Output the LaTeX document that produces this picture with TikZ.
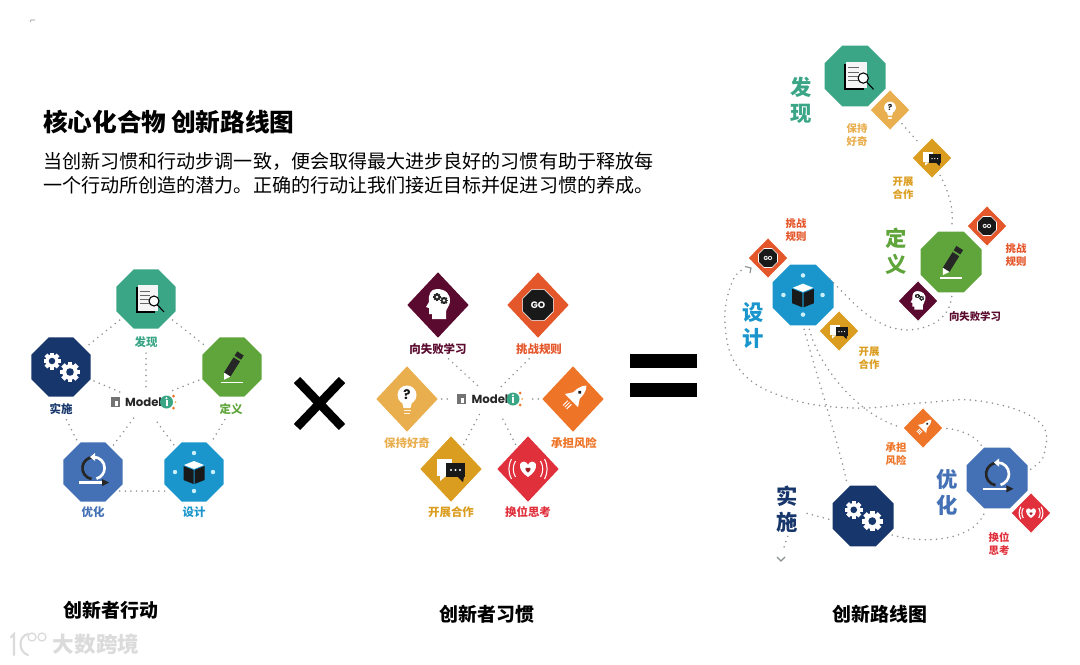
\documentclass[tikz,border=0pt]{standalone}
\usepackage{fontspec}
\setmainfont{Noto Sans CJK SC}
\newfontfamily\logofont{Poppins}
\usetikzlibrary{shapes.geometric}

\definecolor{faxian}{HTML}{3BA686}
\definecolor{dingyi}{HTML}{5FA53B}
\definecolor{sheji}{HTML}{1A96CC}
\definecolor{youhua}{HTML}{4470B5}
\definecolor{shishi}{HTML}{17366B}
\definecolor{shibai}{HTML}{5A0A2E}
\definecolor{guize}{HTML}{E4572B}
\definecolor{fengxian}{HTML}{EE7427}
\definecolor{haoqi}{HTML}{E9AE4E}
\definecolor{hezuo}{HTML}{DB9D20}
\definecolor{sikao}{HTML}{E0303C}
\definecolor{dotgray}{HTML}{8A918E}

\newcommand{\geartool}[5]{%
    \foreach \a in {0,45,...,315}
        \fill[#4,rotate around={\a:(#1,#2)}] (#1-#3*0.24,#2-#3) rectangle (#1+#3*0.24,#2);
    \fill[#4] (#1,#2) circle[radius=#3*0.78];
    \fill[#5] (#1,#2) circle[radius=#3*0.38];
}

\tikzset{
    octnode/.style={regular polygon,regular polygon sides=8,
        minimum size=48pt,inner sep=0pt,outer sep=0pt,fill=#1},
    bigoct/.style={octnode=#1,minimum size=49.5pt},
    dianode/.style={diamond,minimum width=46pt,minimum height=49pt,inner sep=0pt,outer sep=0pt,fill=#1},
    smalldia/.style={diamond,minimum width=30pt,minimum height=30.5pt,inner sep=0pt,outer sep=0pt,fill=#1,
        draw=white,line width=.6pt},
    tag/.style={font=\fontsize{8.6}{10.5}\selectfont\bfseries,text=#1,inner sep=1pt,align=center},
    smalltag/.style={font=\fontsize{7.8}{9.8}\selectfont\bfseries,text=#1,inner sep=1pt,align=center},
    bigtag/.style={font=\fontsize{16}{19.5}\selectfont\bfseries,text=#1,inner sep=0pt,align=center},
    caption/.style={font=\fontsize{14.2}{17}\selectfont\bfseries,inner sep=0pt},
    modeltext/.style={font=\logofont\fontsize{8.8}{11}\selectfont\bfseries,text=black!85,inner sep=0pt,
        minimum width=50pt,minimum height=12pt},
    dotline/.style={dotgray,line width=1.3pt,line cap=round,dash pattern=on 0pt off 4.2pt,
        shorten >=3pt,shorten <=3pt},
    docpic/.pic={
        \fill[black] (-10.5,-12) rectangle (9,14);
        \fill[white!96!black] (-8.5,-14) rectangle (11.5,12);
        \foreach \y in {-8,-4,0,4}
            \draw[black!60,line width=.5pt] (-6.5,\y) -- (4,\y);
        \draw[black,line width=.8pt,fill=white] (8,2) circle[radius=5];
        \draw[black,line width=.8pt] (11.5,6) -- (18,13);
    },
    gearpic/.pic={
        \geartool{-9}{-6}{8.5}{white}{shishi}
        \geartool{9}{5}{10}{white}{shishi}
    },
    pencilpic/.pic={
        \begin{scope}[rotate=-32]
            \fill[black!85] (-3.8,-9) rectangle (3.8,9);
            \fill[black!85] (-3.8,-16) rectangle (3.8,-11);
            \fill[white] (-3.8,9) -- (3.8,9) -- (0,15) -- cycle;
        \end{scope}
        \draw[white,line width=.9pt] (-11,15.5) -- (11,15.5);
    },
    cubepic/.pic={
        \fill[white] (0,-11) -- (10,-7) -- (0,-3) -- (-10,-7) -- cycle;
        \fill[black!90] (-10.5,-6) -- (-.5,-2) -- (-.5,12) -- (-10.5,8) -- cycle;
        \fill[black!90] (10.5,-6) -- (.5,-2) -- (.5,12) -- (10.5,8) -- cycle;
        \foreach \x/\y in {0/-19,19/0,0/19,-19/0}
            \fill[cyan!20] (\x,\y) circle[radius=2.2];
    },
    cyclepic/.pic={
        \draw[white,line width=2pt] (0.6,-15) arc[start angle=-90,end angle=75,radius=11];
        \draw[black!85,line width=2pt] (-1.5,7) arc[start angle=100,end angle=265,radius=11];
        \fill[white] (-3,-15) -- (2,-19) -- (2,-11) -- cycle;
        \draw[white,line width=1.6pt] (-14,10.5) -- (10,10.5);
        \fill[black!85] (9,7) -- (16,10.5) -- (9,14) -- cycle;
    },
    headpic/.pic={
        \fill[white] (-1,-16) .. controls (8,-16) and (13,-10) .. (12,-3)
            .. controls (11,2) and (8,4) .. (8,7) -- (8,14) -- (-6,14) -- (-6,9) -- (-9,9)
            -- (-9,3) -- (-12,2) -- (-9,-3) .. controls (-10,-11) and (-7,-16) .. (-1,-16) -- cycle;
        \geartool{-1}{-8}{3.8}{black!85}{white}
        \geartool{6}{-4.5}{3.8}{black!85}{white}
    },
    gopic/.pic={
        \node[regular polygon,regular polygon sides=8,minimum size=25pt,
            inner sep=0pt,fill=black!90,draw=white,line width=.5pt,transform shape,
            text=white,font=\logofont\fontsize{7}{8}\selectfont\bfseries] (gomark) at (0,0) {GO};
    },
    bulbpic/.pic={
        \fill[white] (0,-4) circle[radius=9.5];
        \fill[white] (-5,3) -- (5,3) -- (3.5,9) -- (-3.5,9) -- cycle;
        \fill[white!85!haoqi] (-3.5,10.5) rectangle (3.5,12);
        \fill[white!85!haoqi] (-3,13.5) rectangle (3,15);
        \node[transform shape,inner sep=0pt,text=black!90,font=\logofont\fontsize{10}{12}\selectfont\bfseries] (askmark) at (0,-4) {?};
    },
    chatpic/.pic={
        \fill[white] (-14,-10) rectangle (1,7);
        \fill[white] (-11,7) -- (-5,7) -- (-11,12) -- cycle;
        \fill[black!90] (-5,-6) rectangle (14,8);
        \fill[black!90] (7,8) -- (13,8) -- (12,13) -- cycle;
        \foreach \x in {0,4.5,9}
            \fill[white] (\x,1) circle[radius=1.1];
    },
    rocketpic/.pic={
        \begin{scope}[shift={(2,-2)},rotate=-45,scale=.85]
            \fill[white] (0,-19) .. controls (5,-14) and (6,-8) .. (5,6) -- (-5,6) .. controls (-6,-8) and (-5,-14) .. (0,-19) -- cycle;
            \fill[white] (-5,-3) -- (-11,6) -- (-5,6) -- cycle;
            \fill[white] (5,-3) -- (11,6) -- (5,6) -- cycle;
            \fill[black!90] (0,-8) circle[radius=2.3];
            \foreach \x in {-3,0,3}
                \draw[white,line width=.7pt] (\x,9) -- (\x,17);
        \end{scope}
    },
    heartpic/.pic={
        \fill[white] (0,8) .. controls (-11,1) and (-9,-8) .. (-4,-7.5) .. controls (-2,-7.5) and (0,-5) .. (0,-4)
            .. controls (0,-5) and (2,-7.5) .. (4,-7.5) .. controls (9,-8) and (11,1) .. (0,8) -- cycle;
        \fill[sikao!70!black] (0,3.5) .. controls (-4,1) and (-3,-2.5) .. (0,-1) .. controls (3,-2.5) and (4,1) .. (0,3.5) -- cycle;
        \foreach \s in {-1,1}{
            \draw[white,line width=.8pt] (\s*12.5,-8) .. controls (\s*15.5,-3) and (\s*15.5,3) .. (\s*12.5,8);
            \draw[white,line width=.8pt] (\s*16.5,-10) .. controls (\s*20,-3) and (\s*20,3) .. (\s*16.5,10);
        }
    },
    modelmarks/.pic={
        \fill[black!55] (-33,-5) rectangle (-24,5);
        \fill[white] (-29,-1) rectangle (-26,3.5);
        \fill[faxian] (23,0) circle[radius=6.5];
        \fill[white] (22,-2) rectangle (24,4);
        \fill[white] (23,-3.8) circle[radius=1.1];
        \fill[fengxian] (30,-6) circle[radius=1.5];
        \fill[fengxian] (30,6) circle[radius=1.5];
        \fill[haoqi] (32,0) circle[radius=1];
    }
}

\begin{document}
\begin{tikzpicture}[x=.75pt,y=-.75pt]
    \useasboundingbox (0,0) rectangle (1080,664);
    \draw[black!45,line width=.5pt] (30,22) -- (31,20) -- (35,20);

    % Heading
    \node[anchor=west,inner sep=0pt,font=\fontsize{18.5}{20}\selectfont\bfseries] (title) at (43,122) {核心化合物\hspace{3.5pt}创新路线图};
    \node[anchor=north west,inner sep=0pt,align=left,font=\fontsize{14.3}{18}\selectfont] (intro) at (43,152)
        {当创新习惯和行动步调一致，便会取得最大进步良好的习惯有助于释放每\\
         一个行动所创造的潜力。正确的行动让我们接近目标并促进习惯的养成。};

    % Actions
    \node[octnode=faxian] (lfaxian) at (146,299) {};
    \node[octnode=dingyi] (ldingyi) at (232,367) {};
    \node[octnode=sheji] (lsheji) at (194,472) {};
    \node[octnode=youhua] (lyouhua) at (93,472) {};
    \node[octnode=shishi] (lshishi) at (61,367) {};
    \pic at (lfaxian) {docpic};
    \pic at (ldingyi) {pencilpic};
    \pic at (lsheji) {cubepic};
    \pic at (lyouhua) {cyclepic};
    \pic at (lshishi) {gearpic};
    \node[tag=faxian] (lfaxianlab) at (146,342) {发现};
    \node[tag=dingyi] (ldingyilab) at (231,409) {定义};
    \node[tag=sheji] (lshejilab) at (194,512) {设计};
    \node[tag=youhua] (lyouhualab) at (93,512) {优化};
    \node[tag=shishi] (lshishilab) at (61,409) {实施};
    \node[modeltext] (lmodel) at (143.5,402) {Model\hspace{6pt}};
    \pic at (lmodel) {modelmarks};
    \draw[dotline] (lfaxian) -- (ldingyi);
    \draw[dotline] (lfaxian) -- (lshishi);
    \draw[dotline] (lfaxianlab) -- (lfaxianlab |- lmodel.north);
    \draw[dotline] (ldingyi) -- (lmodel);
    \draw[dotline] (lshishi) -- (lmodel);
    \draw[dotline,shorten >=7pt] (lsheji) -- (lmodel.-60);
    \draw[dotline,shorten >=7pt] (lyouhua) -- (lmodel.-115);
    \draw[dotline] (lshishilab) -- (lyouhua);
    \draw[dotline] (ldingyilab) -- (lsheji);
    \draw[dotline] (lyouhua.-40) -- (lsheji.220);
    \node[caption] (lcaption) at (111,610) {创新者行动};

    % Times
    \draw[black,line width=6.6pt] (297,380) -- (342,427);
    \draw[black,line width=6.6pt] (342,380) -- (297,427);

    % Habits
    \node[dianode=shibai] (mfail) at (438,305) {};
    \node[dianode=guize] (mrule) at (538,305) {};
    \node[dianode=haoqi] (mcurious) at (407,399) {};
    \node[dianode=fengxian] (mrisk) at (573,399) {};
    \node[dianode=hezuo] (mcoop) at (451,469) {};
    \node[dianode=sikao] (mthink) at (528,469) {};
    \pic at (mfail) {headpic};
    \pic at (mrule) {gopic};
    \pic at (mcurious) {bulbpic};
    \pic at (mrisk) {rocketpic};
    \pic at (mcoop) {chatpic};
    \pic at (mthink) {heartpic};
    \node[tag=shibai] (mfaillab) at (438,349) {向失败学习};
    \node[tag=guize] (mrulelab) at (539,349) {挑战规则};
    \node[tag=haoqi] (mcuriouslab) at (407,443) {保持好奇};
    \node[tag=fengxian] (mrisklab) at (574,443) {承担风险};
    \node[tag=hezuo] (mcooplab) at (451,512) {开展合作};
    \node[tag=sikao] (mthinklab) at (528,512) {换位思考};
    \node[modeltext] (mmodel) at (490,399) {Model\hspace{6pt}};
    \pic at (mmodel) {modelmarks};
    \draw[dotline] (mfaillab) -- (mmodel.130);
    \draw[dotline] (mrulelab) -- (mmodel.50);
    \draw[dotline] (mcurious) -- (mmodel);
    \draw[dotline] (mrisk) -- (mmodel);
    \draw[dotline,shorten >=6pt] (mcoop) -- (mmodel.-130);
    \draw[dotline,shorten >=6pt] (mthink) -- (mmodel.-50);
    \node[caption] (mcaption) at (487,614) {创新者习惯};

    % Equals
    \fill[black] (630,354) rectangle (697,368);
    \fill[black] (630,383) rectangle (697,397);

    % Road map
    \node[bigoct=faxian] (rfaxian) at (855,76) {};
    \node[bigoct=dingyi] (rdingyi) at (951,262) {};
    \node[bigoct=sheji] (rsheji) at (803,295) {};
    \node[bigoct=youhua] (ryouhua) at (997,478) {};
    \node[bigoct=shishi] (rshishi) at (863,516) {};
    \pic[scale=1.03] at (rfaxian) {docpic};
    \pic[scale=1.03] at (rdingyi) {pencilpic};
    \pic[scale=1.03] at (rsheji) {cubepic};
    \pic[scale=1.03] at (ryouhua) {cyclepic};
    \pic[scale=1.03] at (rshishi) {gearpic};
    \node[smalldia=haoqi] (rcurious) at (890,110) {};
    \node[smalldia=hezuo] (rcoopa) at (932,158) {};
    \node[smalldia=guize] (rrulea) at (987,226) {};
    \node[smalldia=shibai] (rfail) at (918,301) {};
    \node[smalldia=guize] (rruleb) at (768,258) {};
    \node[smalldia=hezuo] (rcoopb) at (839,331) {};
    \node[smalldia=fengxian] (rrisk) at (923,428) {};
    \node[smalldia=sikao] (rthink) at (1031,513) {};
    \pic[scale=.62] at (rcurious) {bulbpic};
    \pic[scale=.62] at (rcoopa) {chatpic};
    \pic[scale=.62] at (rrulea) {gopic};
    \pic[scale=.62] at (rfail) {headpic};
    \pic[scale=.62] at (rruleb) {gopic};
    \pic[scale=.62] at (rcoopb) {chatpic};
    \pic[scale=.62] at (rrisk) {rocketpic};
    \pic[scale=.62] at (rthink) {heartpic};
    \node[bigtag=faxian] (rfaxianlab) at (801,100) {发\\现};
    \node[bigtag=dingyi] (rdingyilab) at (896,251) {定\\义};
    \node[bigtag=sheji] (rshejilab) at (753,326) {设\\计};
    \node[bigtag=youhua] (ryouhualab) at (947,492) {优\\化};
    \node[bigtag=shishi] (rshishilab) at (787,509) {实\\施};
    \node[smalltag=haoqi] (rcuriouslab) at (857,135) {保持\\好奇};
    \node[smalltag=hezuo] (rcoopalab) at (903,188) {开展\\合作};
    \node[smalltag=guize] (rrulealab) at (1016,255) {挑战\\规则};
    \node[smalltag=guize] (rrulelab) at (796,230) {挑战\\规则};
    \node[smalltag=hezuo] (rcoopblab) at (869,358) {开展\\合作};
    \node[smalltag=fengxian] (rrisklab) at (896,454) {承担\\风险};
    \node[smalltag=sikao] (rthinklab) at (999,544) {换位\\思考};
    \coordinate (rstart) at (748,268);
    \coordinate (rend) at (781,556);
    \draw[dotline] (rcurious) -- (rcoopa);
    \draw[dotline] (rcoopa.-65) .. controls (950,195) and (954,210) .. (rdingyi.90);
    \draw[dotline] (rdingyi.-88) .. controls (950,318) and (930,330) .. (905,330)
        .. controls (875,328) and (855,305) .. (rsheji.40);
    \draw[dotline] (rsheji.-90) .. controls (815,370) and (835,430) .. (rshishi.118);
    \draw[dotline] (rsheji.-80) .. controls (820,370) and (860,415) .. (rrisk.west);
    \draw[dotline] (rrisk.east) .. controls (960,430) and (975,435) .. (ryouhua.115);
    \draw[dotline] (rshishi.-35) .. controls (925,545) and (975,540) .. (ryouhua.-110);
    \draw[dotline] plot[smooth,tension=.7] coordinates {(ryouhua.12) (1045,450) (1037,420) (980,401) (920,403)
        (853,408) (787,398) (740,370) (725,323) (733,280) (rstart)};
    \draw[dotgray,line width=.9pt] (745,266.5) -- (751,268) -- (750,273);
    \draw[dotline] (rshishi.188) -- (rshishilab.-10);
    \draw[dotline] (rshishilab.-85) -- (rend);
    \draw[dotgray,line width=.9pt] (777,557) -- (781,561) -- (785,557);
    \node[smalltag=shibai,fill=white] (rfaillab) at (975,316) {向失败学习};
    \node[caption] (rcaption) at (880,614) {创新路线图};

    % Watermark
    \begin{scope}[black!14,line width=1.6pt,line cap=round]
        \draw (11,637) -- (14,634) -- (14,655);
        \draw (28,634) .. controls (18,636) and (18,652) .. (28,655);
        \draw[line width=1pt] (32,637) circle[radius=4];
        \draw[line width=1pt] (42,637) circle[radius=4];
    \end{scope}
    \node[inner sep=0pt,text=black!14,font=\fontsize{16.2}{18}\selectfont\bfseries] (mark) at (96,644) {大数跨境};
\end{tikzpicture}
\end{document}
